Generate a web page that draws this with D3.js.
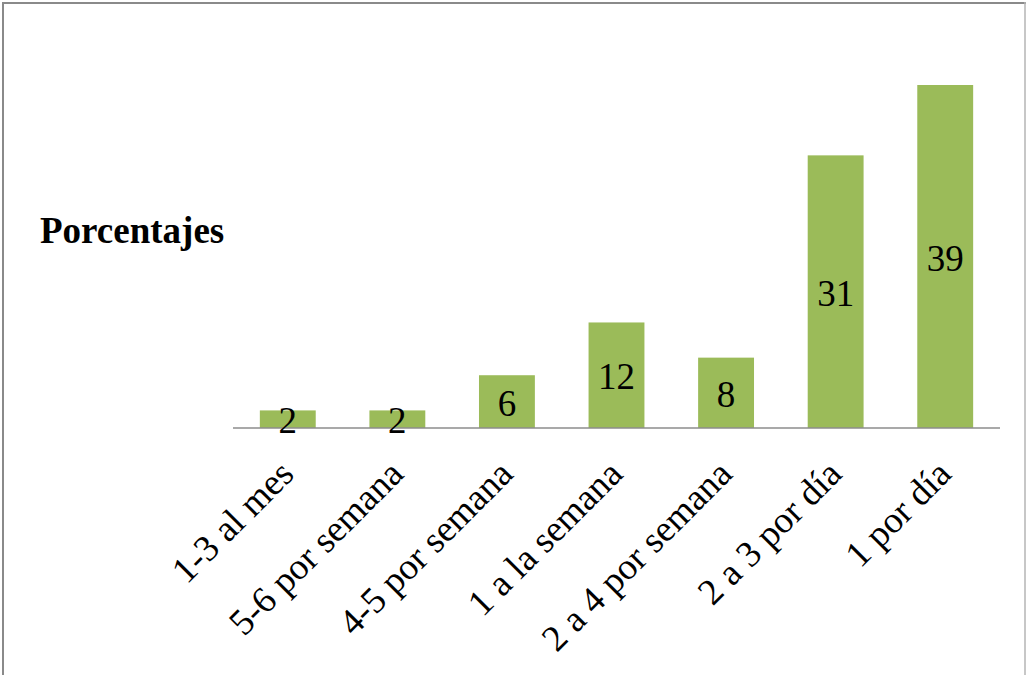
<!DOCTYPE html>
<html>
<head>
<meta charset="utf-8">
<script src="https://cdn.jsdelivr.net/npm/d3@7"></script>
<style>
  html, body { margin: 0; padding: 0; background: #fff; }
  svg { display: block; }
  svg text { font-family: "Liberation Serif", serif !important; }
</style>
</head>
<body>
<svg id="chart" width="1029" height="675"></svg>
<script>
// Frequency categories and their percentages
const categories = ["1-3 al mes", "5-6 por semana", "4-5 por semana", "1 a la semana",
                    "2 a 4 por semana", "2 a 3 por día", "1 por día"];
const values = [2, 2, 6, 12, 8, 31, 39];
const yTitle = "Porcentajes";

const H = 675;
const svg = d3.select("#chart");
const serifFamily = "Liberation Serif";

// Outer frame
svg.append("line").attr("x1", 2).attr("x2", 1026).attr("y1", 3).attr("y2", 3)
  .attr("stroke", "#8a8a8a").attr("stroke-width", 2);
svg.append("line").attr("x1", 3).attr("x2", 3).attr("y1", 2).attr("y2", H)
  .attr("stroke", "#8a8a8a").attr("stroke-width", 2);
svg.append("line").attr("x1", 1025).attr("x2", 1025).attr("y1", 2).attr("y2", H)
  .attr("stroke", "#b4b4b4").attr("stroke-width", 1.5);

// Plot area
const plot = { left: 233, right: 1000, top: 85, bottom: 428 };

const x = d3.scaleBand()
  .domain(categories)
  .range([plot.left, plot.right])
  .paddingInner(0.49)
  .paddingOuter(0.245);

const y = d3.scaleLinear()
  .domain([0, 39])
  .range([plot.bottom, plot.top]);

const data = categories.map((c, i) => ({ cat: c, val: values[i] }));

// Bars
svg.append("g").selectAll("rect")
  .data(data)
  .join("rect")
  .attr("x", d => x(d.cat))
  .attr("y", d => y(d.val))
  .attr("width", x.bandwidth())
  .attr("height", d => y(0) - y(d.val))
  .attr("fill", "#9bbb59");

// Category axis line
svg.append("line")
  .attr("x1", plot.left).attr("x2", plot.right)
  .attr("y1", y(0)).attr("y2", y(0))
  .attr("stroke", "#8c8c8c").attr("stroke-width", 1.5);

const fs = 37;
function serif(sel) {
  return sel.attr("font-family", serifFamily)
    .style("font-family", serifFamily, "important")
    .style("font-size", fs + "px")
    .attr("fill", "#000");
}

// Value labels centred inside each bar
svg.append("g").selectAll("text")
  .data(data)
  .join("text")
  .attr("x", d => x(d.cat) + x.bandwidth() / 2)
  .attr("y", d => (y(d.val) + y(0)) / 2 + fs * 0.34 + 1.5)
  .attr("text-anchor", "middle")
  .call(serif)
  .text(d => d.val);

// Rotated category labels
svg.append("g").selectAll("text")
  .data(data)
  .join("text")
  .attr("transform", d => `translate(${x(d.cat) + x.bandwidth() / 2 + 8},${y(0) + 48}) rotate(-45)`)
  .attr("text-anchor", "end")
  .call(serif)
  .text(d => d.cat);

// Y axis title
svg.append("text")
  .attr("x", 40).attr("y", 243)
  .call(serif)
  .style("font-weight", "bold")
  .text(yTitle);
</script>
</body>
</html>
